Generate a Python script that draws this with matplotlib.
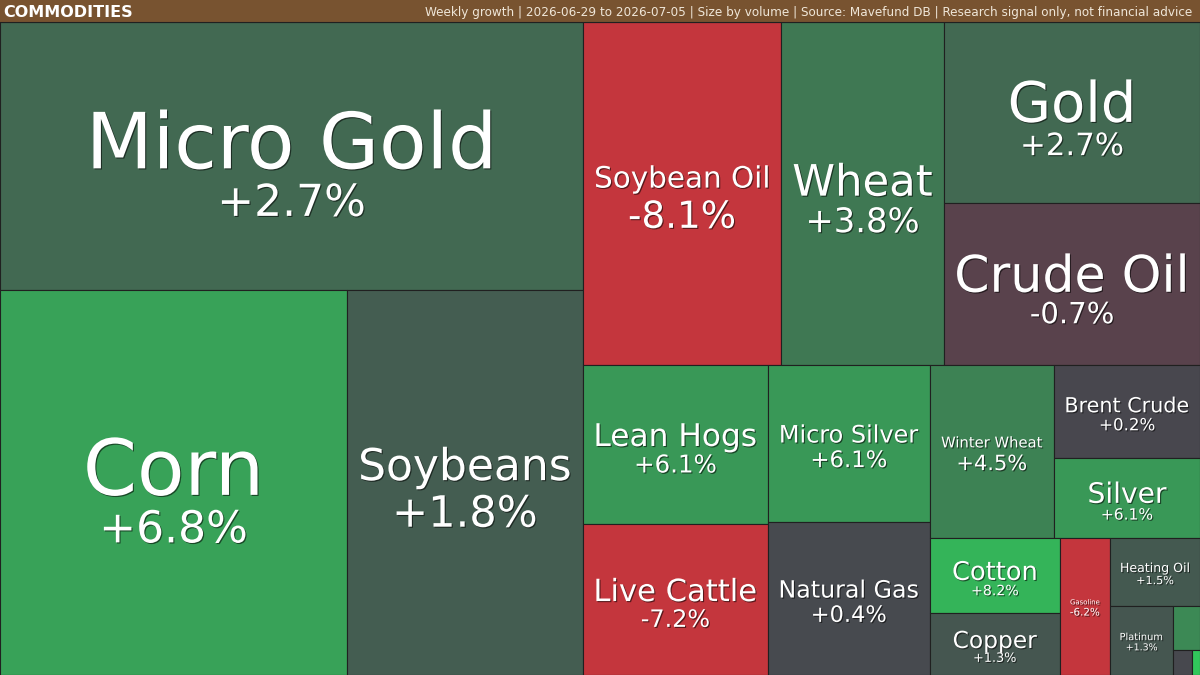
"""Commodities weekly growth treemap (size by volume, colour by growth)"""

import numpy as np
import matplotlib
matplotlib.use("Agg")
import matplotlib.pyplot as plt
import matplotlib.patheffects as pe
from matplotlib.patches import Rectangle
from matplotlib.textpath import TextPath
from matplotlib.font_manager import FontProperties
from matplotlib.colors import LinearSegmentedColormap, TwoSlopeNorm

# data (volume in thousand contracts, weekly growth in %)
names = ["Micro Gold", "Corn", "Soybeans", "Soybean Oil", "Wheat", "Gold",
         "Crude Oil", "Lean Hogs", "Live Cattle", "Micro Silver", "Natural Gas",
         "Winter Wheat", "Brent Crude", "Silver", "Cotton", "Copper", "Gasoline",
         "Heating Oil", "Platinum", "Palladium", "Oats", "Rough Rice"]
volumes = [156.2, 133.6, 90.9, 67.9, 55.9, 46.3, 41.5, 29.4, 27.9, 25.4, 24.8,
           21.5, 13.6, 11.7, 9.75, 8.06, 6.85, 6.12, 4.35, 1.19, 0.475, 0.2]
growth = [2.7, 6.8, 1.8, -8.1, 3.8, 2.7, -0.7, 6.1, -7.2, 6.1, 0.4,
          4.5, 0.2, 6.1, 8.2, 1.3, -6.2, 1.5, 1.3, 5.0, 0.3, 9.5]

title = "COMMODITIES"
subtitle = ("Weekly growth | 2026-06-29 to 2026-07-05 | Size by volume | "
            "Source: Mavefund DB | Research signal only, not financial advice")

W, H = 1200, 675
HEADER = 22


def binary_treemap(values, x0, y0, x1, y1):
    """balanced binary split of sorted values (same idea as d3.treemapBinary)"""
    sums = np.concatenate([[0.0], np.cumsum(values)])
    rects = [None] * len(values)

    def part(i, j, value, x0, y0, x1, y1):
        if i >= j - 1:
            rects[i] = (x0, y0, x1, y1)
            return
        offset = sums[i]
        target = value / 2 + offset
        k, hi = i + 1, j - 1
        while k < hi:
            mid = (k + hi) // 2
            if sums[mid] < target:
                k = mid + 1
            else:
                hi = mid
        if (target - sums[k - 1]) < (sums[k] - target) and i + 1 < k:
            k -= 1
        left = sums[k] - offset
        right = value - left
        if (x1 - x0) > (y1 - y0):
            xk = (x0 * right + x1 * left) / value
            part(i, k, left, x0, y0, xk, y1)
            part(k, j, right, xk, y0, x1, y1)
        else:
            yk = (y0 * right + y1 * left) / value
            part(i, k, left, x0, y0, x1, yk)
            part(k, j, right, x0, yk, x1, y1)

    part(0, len(values), sums[-1], x0, y0, x1, y1)
    return rects


def ink_width(text, prop):
    # width of the glyphs at an em size of 100 px
    return TextPath((0, 0), text, size=100, prop=prop).get_extents().width


order = np.argsort(volumes)[::-1]
vals = [volumes[i] for i in order]
rects = binary_treemap(vals, 0, HEADER, W, H)

cmap = LinearSegmentedColormap.from_list(
    "growth", ["#c4363d", "#48444e", "#30cd5c"])
norm = TwoSlopeNorm(vmin=-5, vcenter=0, vmax=10)

fig = plt.figure(figsize=(12, 6.75), dpi=100)
ax = fig.add_axes([0, 0, 1, 1])
ax.set_xlim(0, W)
ax.set_ylim(H, 0)
ax.axis("off")

prop = FontProperties(family="DejaVu Sans")
px2pt = 72 / fig.dpi
shadow = [pe.withSimplePatchShadow(offset=(0.8, -0.8), shadow_rgbFace="black", alpha=0.55)]

for idx, (x0, y0, x1, y1) in zip(order, rects):
    w, h = x1 - x0, y1 - y0
    ax.add_patch(Rectangle((x0, y0), w, h, facecolor=cmap(norm(np.clip(growth[idx], -5, 10))),
                           edgecolor="#202020", linewidth=0.8))
    if w < 30 or h < 30:
        continue
    label = names[idx]
    pct = f"{growth[idx]:+.1f}%"
    side = np.sqrt(w * h)
    room = (w - 20) * 96.5
    name_px = min(77.5, 0.26 * side, room / ink_width(label, prop))
    pct_px = min(44, 0.143 * side, room / ink_width(pct, prop))
    cx, cy = (x0 + x1) / 2, (y0 + y1) / 2
    base = cy + 0.453 * name_px - 0.516 * pct_px
    ax.text(cx, base, label, ha="center", va="baseline", color="white",
            fontsize=name_px * px2pt, path_effects=shadow)
    ax.text(cx, base + 1.08 * pct_px, pct, ha="center", va="baseline", color="white",
            fontsize=pct_px * px2pt, path_effects=shadow)

# header bar
ax.add_patch(Rectangle((0, 0), W, HEADER, facecolor="#785330", edgecolor="none"))
ax.plot([0, W], [HEADER, HEADER], color="#202020", linewidth=0.8)
ax.text(3, 17, title, ha="left", va="baseline", color="white",
        fontsize=11.5, fontweight="bold")
ax.text(1192, 16, subtitle, ha="right", va="baseline", color="#efe6d8",
        fontsize=9.65, fontstretch="condensed")

fig.savefig("out.png", dpi=100)
